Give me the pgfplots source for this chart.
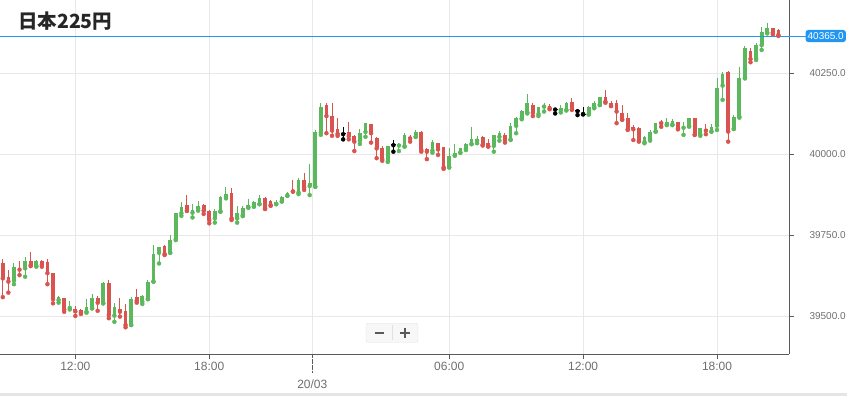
\documentclass[border=0pt]{standalone}
\usepackage{pgfplots}
\pgfplotsset{compat=1.18}
\usepackage{pgfplotstable}
\usepackage{fontspec}
\setmainfont{Liberation Sans}
\newfontfamily\cjk{Noto Sans CJK JP}
\definecolor{cgreen}{RGB}{92,184,92}
\definecolor{cred}{RGB}{217,83,79}
\definecolor{cblue}{RGB}{33,150,243}
\definecolor{cgrid}{RGB}{232,232,232}
\definecolor{caxis}{RGB}{90,90,90}
\definecolor{clabel}{RGB}{110,110,110}

% k = candle index (15-minute candles), o h l c = open high low close
\pgfplotstableread{
k o h l c
2 39610 39663 39599 39651
4 39648 39682 39622 39672
6 39656 39674 39653 39670
10 39550 39563 39542 39559
12 39526 39547 39521 39530
15 39514 39552 39511 39529
16 39525 39569 39524 39555
18 39540 39607 39540 39602
20 39502 39540 39483 39530
23 39473 39559 39473 39553
25 39545 39566 39538 39563
26 39553 39612 39553 39605
27 39607 39720 39607 39692
28 39696 39715 39663 39713
30 39696 39751 39696 39735
31 39738 39820 39735 39820
32 39818 39853 39810 39838
34 39820 39847 39805 39828
35 39833 39857 39826 39840
38 39802 39830 39789 39826
39 39823 39871 39823 39869
40 39869 39898 39864 39877
42 39802 39840 39789 39818
43 39811 39840 39809 39835
44 39836 39861 39835 39844
45 39839 39856 39838 39853
46 39846 39874 39846 39866
49 39846 39859 39846 39853
50 39855 39871 39854 39867
51 39872 39884 39872 39882
53 39882 39926 39877 39921
55 39902 39970 39874 39910
56 39900 40075 39900 40070
57 40067 40159 40060 40147
64 40042 40077 40032 40067
65 40069 40098 40054 40096
69 39977 40026 39977 40026
71 40027 40034 40010 40031
72 40024 40065 40024 40060
74 40054 40075 40054 40070
77 40011 40044 40005 40039
80 39960 40018 39959 39995
81 39996 40032 39996 40004
82 40005 40020 40005 40018
83 40018 40036 40013 40031
84 40032 40085 40031 40047
85 40042 40057 40034 40047
88 40026 40060 40008 40060
89 40054 40073 40042 40065
91 40046 40096 40044 40087
92 40088 40114 40065 40111
93 40111 40137 40108 40134
94 40129 40186 40126 40157
96 40124 40147 40118 40145
97 40147 40159 40132 40152
100 40137 40152 40129 40142
101 40137 40162 40135 40159
105 40123 40149 40123 40147
106 40145 40165 40142 40159
107 40152 40178 40152 40176
115 40037 40056 40034 40054
116 40047 40075 40042 40070
117 40070 40098 40070 40096
119 40092 40111 40090 40101
120 40092 40108 40090 40104
122 40082 40101 40060 40087
123 40087 40111 40085 40111
125 40060 40082 40057 40080
127 40070 40092 40070 40085
128 40088 40234 40075 40206
129 40212 40255 40168 40247
131 40078 40121 40078 40116
132 40116 40270 40113 40236
133 40237 40335 40234 40327
135 40296 40342 40291 40337
136 40337 40394 40322 40378
137 40376 40404 40373 40391
}\greencandles

\pgfplotstableread{
k o h l c
0 39664 39677 39559 39617
1 39620 39643 39573 39607
3 39649 39672 39627 39644
5 39672 39697 39655 39658
7 39672 39674 39653 39659
8 39666 39676 39599 39633
9 39633 39635 39540 39553
11 39555 39555 39514 39521
13 39523 39532 39501 39515
14 39519 39521 39507 39512
17 39556 39563 39517 39542
19 39602 39612 39494 39504
21 39523 39557 39499 39514
22 39516 39538 39466 39473
24 39559 39584 39542 39548
29 39717 39720 39689 39692
33 39844 39874 39825 39826
36 39844 39847 39816 39826
37 39826 39828 39787 39797
41 39882 39897 39797 39802
47 39865 39867 39831 39833
48 39856 39859 39841 39843
52 39888 39921 39885 39885
54 39921 39941 39890 39897
58 40152 40157 40065 40118
59 40118 40159 40057 40073
60 40077 40111 40057 40063
62 40070 40099 40046 40056
63 40056 40060 40010 40039
66 40093 40093 40036 40065
67 40049 40054 39988 40018
68 40018 40026 39980 39985
73 40053 40060 40039 40049
75 40070 40073 40008 40013
76 40016 40018 39985 40008
78 40036 40036 39998 40015
79 40021 40024 39955 39959
86 40054 40057 40027 40029
87 40036 40046 40024 40024
90 40060 40067 40036 40044
95 40152 40159 40118 40128
98 40149 40155 40139 40142
102 40162 40173 40137 40139
108 40178 40199 40159 40162
109 40159 40165 40149 40149
110 40159 40168 40096 40132
111 40126 40152 40106 40108
112 40111 40126 40075 40077
113 40085 40090 40044 40077
114 40080 40083 40039 40041
118 40099 40106 40085 40096
121 40101 40101 40077 40080
124 40111 40111 40060 40060
126 40077 40094 40062 40073
130 40255 40257 40039 40070
134 40319 40329 40284 40294
138 40389 40391 40370 40376
139 40384 40387 40368 40365
}\redcandles

\pgfplotstableread{
k o h l c
61 40063 40083 40046 40063
70 40029 40044 40008 40029
99 40139 40139 40126 40139
103 40134 40139 40121 40134
104 40124 40147 40124 40124
}\dojicandles

\begin{document}
\begin{tikzpicture}
\useasboundingbox (0,0) rectangle (847pt,396pt);
% bottom page band
\fill[black!10] (0,0) rectangle (847pt,3pt);
\begin{axis}[
  at={(0pt,42pt)}, anchor=south west,
  scale only axis, width=789pt, height=354pt,
  xmin=-0.502, xmax=140.9, ymin=39383.6, ymax=40476.2,
  axis x line*=bottom, axis y line*=right,
  axis line style={caxis, line width=0.9pt},
  tick align=outside,
  xtick={13,37,80,104,128},
  xticklabels={12:00,18:00,06:00,12:00,18:00},
  extra x ticks={55.47},
  extra x tick labels={20/03},
  extra x tick style={major tick length=18pt, tick style={densely dotted, caxis, line width=0.8pt}, xticklabel style={yshift=-4pt}},
  x tick style={caxis, line width=0.8pt},
  y tick style={caxis, line width=0.8pt},
  x tick label style={font=\fontsize{12}{12}\selectfont, text=clabel},
  ytick={39500,39750,40000,40250},
  yticklabels={39500.0,39750.0,40000.0,40250.0},
  y tick label style={font=\fontsize{10}{10}\selectfont, text=clabel, anchor=west, xshift=12pt},
  xmajorgrids, ymajorgrids,
  grid style={cgrid, line width=0.8pt},
  major tick length=5pt,
]
% wicks
\addplot[only marks, mark=none, color=cgreen, error bars/.cd, y dir=plus, y explicit, error mark=none, error bar style={line width=1pt}]
  table[x=k, y=l, y error expr=\thisrow{h}-\thisrow{l}] {\greencandles};
\addplot[only marks, mark=none, color=cred, error bars/.cd, y dir=plus, y explicit, error mark=none, error bar style={line width=1pt}]
  table[x=k, y=l, y error expr=\thisrow{h}-\thisrow{l}] {\redcandles};
\addplot[only marks, mark=none, color=black, error bars/.cd, y dir=plus, y explicit, error mark=none, error bar style={line width=1pt}]
  table[x=k, y=l, y error expr=\thisrow{h}-\thisrow{l}] {\dojicandles};
% bodies
\addplot[only marks, mark=none, color=cgreen, error bars/.cd, y dir=plus, y explicit, error mark=none, error bar style={line width=3.7pt}]
  table[x=k, y=o, y error expr={max(\thisrow{c}-\thisrow{o},3)}] {\greencandles};
\addplot[only marks, mark=none, color=cred, error bars/.cd, y dir=plus, y explicit, error mark=none, error bar style={line width=3.7pt}]
  table[x=k, y=c, y error expr={max(\thisrow{o}-\thisrow{c},3)}] {\redcandles};
\addplot[only marks, mark=none, color=black, error bars/.cd, y dir=plus, y explicit, error mark=none, error bar style={line width=5pt}]
  table[x=k, y expr=\thisrow{c}-1, y error expr=2.2] {\dojicandles};
% current price line
\addplot[cblue, line width=0.9pt, forget plot] coordinates {(-0.502,40365) (140.9,40365)};
\coordinate (cp) at (axis cs:140.9,40365);
\end{axis}
\draw[cblue, line width=0.9pt] (cp) -- ++(18pt,0);
\node[fill=cblue, text=white, rounded corners=2.5pt, inner xsep=2pt, inner ysep=2.5pt, anchor=east, font=\fontsize{10}{10}\selectfont] at ([xshift=57pt]cp) {40365.0};
% title
\node[anchor=base west, inner sep=0pt, text=black!85, font=\cjk\bfseries\fontsize{19.5}{20}\selectfont] at (18pt,367.5pt) {日本225円};
% zoom buttons
\draw[black!12, fill=black!3, rounded corners=2pt] (366pt,53.7pt) rectangle (418pt,72.7pt);
\draw[black!12] (392pt,56pt) -- (392pt,70.5pt);
\draw[black!65, line width=1.8pt] (374.5pt,63.2pt) -- (384pt,63.2pt);
\draw[black!65, line width=1.8pt] (400pt,63.2pt) -- (410pt,63.2pt);
\draw[black!65, line width=1.8pt] (405pt,58.2pt) -- (405pt,68.2pt);
\end{tikzpicture}
\end{document}
